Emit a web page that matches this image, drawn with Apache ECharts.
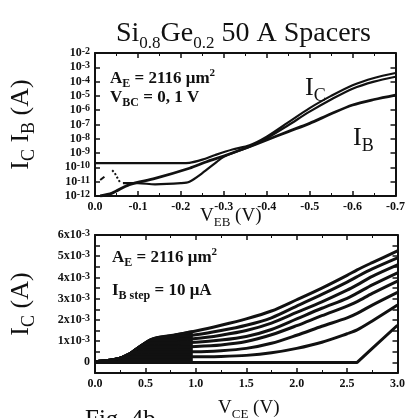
<!DOCTYPE html>
<html>
<head>
<meta charset="utf-8">
<script src="https://cdn.jsdelivr.net/npm/echarts@6/dist/echarts.min.js"></script>
<style>
  html, body { margin: 0; padding: 0; background: #fff; }
  #chart { width: 408px; height: 418px; }
</style>
</head>
<body>
<div id="chart"></div>
<script>
// --- top panel: Gummel plot (V_EB in V, currents in A) ---
const vebIcHigh = [0, -0.1, -0.2, -0.22, -0.25, -0.28, -0.32, -0.36, -0.4, -0.45, -0.5, -0.55, -0.6, -0.65, -0.7]
const icHigh = [2.0e-10, 2.0e-10, 2.0e-10, 2.1e-10, 3.5e-10, 7.4e-10, 1.8e-9, 3.5e-9, 1.4e-8, 1.4e-7, 1.4e-6, 1.0e-5, 5.6e-5, 1.8e-4, 4.0e-4]
const vebIcLow = [-0.065, -0.1, -0.14, -0.2, -0.22, -0.25, -0.28, -0.3, -0.33, -0.36, -0.4, -0.45, -0.5, -0.55, -0.6, -0.65, -0.7]
const icLow = [7.9e-12, 7.9e-12, 6.6e-12, 7.9e-12, 1.0e-11, 4.0e-11, 2.0e-10, 5.6e-10, 1.3e-9, 2.8e-9, 1.1e-8, 8.9e-8, 7.9e-7, 5.6e-6, 3.2e-5, 1.0e-4, 2.2e-4]
const vebIb = [-0.012, -0.04, -0.08, -0.14, -0.22, -0.26, -0.3, -0.35, -0.4, -0.45, -0.5, -0.55, -0.6, -0.65, -0.7]
const ib = [1.0e-12, 1.6e-12, 6.3e-12, 1.7e-11, 8.7e-11, 2.5e-10, 6.3e-10, 2.2e-9, 8.3e-9, 3.2e-8, 1.2e-7, 5.6e-7, 2.3e-6, 5.6e-6, 1.15e-5]
const vebNoise = [-0.04, -0.045, -0.05, -0.055, -0.06]
const noise = [6.3e-11, 4.5e-11, 2.5e-11, 1.3e-11, 7.9e-12]
const vebNoise2 = [-0.012, -0.022]
const noise2 = [1.3e-11, 2.2e-11]

// --- bottom panel: output characteristics (V_CE in V, I_C in mA) ---
const vce = [0, 0.15, 0.25, 0.35, 0.45, 0.55, 0.65, 0.8, 1.0, 1.25, 1.5, 1.75, 2.0, 2.25, 2.5, 2.6, 2.75, 3.0]
const ic1 = [0.03, 0.1, 0.2, 0.42, 0.76, 1.06, 1.2, 1.3, 1.48, 1.75, 2.05, 2.42, 2.95, 3.5, 4.1, 4.36, 4.7, 5.25]
const ic2 = [0.03, 0.1, 0.2, 0.42, 0.76, 1.06, 1.15, 1.2, 1.3, 1.5, 1.75, 2.1, 2.65, 3.2, 3.78, 4.04, 4.4, 4.92]
const ic3 = [0.03, 0.1, 0.2, 0.42, 0.76, 1.0, 1.05, 1.08, 1.12, 1.28, 1.5, 1.85, 2.35, 2.85, 3.4, 3.65, 4.05, 4.59]
const ic4 = [0.03, 0.1, 0.2, 0.42, 0.76, 0.9, 0.92, 0.93, 0.95, 1.05, 1.22, 1.55, 2.05, 2.55, 3.02, 3.26, 3.65, 4.22]
const ic5 = [0.03, 0.1, 0.2, 0.42, 0.7, 0.72, 0.72, 0.73, 0.75, 0.82, 0.98, 1.3, 1.73, 2.2, 2.65, 2.86, 3.25, 3.83]
const ic6 = [0.03, 0.1, 0.2, 0.42, 0.48, 0.5, 0.5, 0.5, 0.5, 0.55, 0.66, 0.9, 1.28, 1.7, 2.1, 2.31, 2.7, 3.3]
const ic7 = [0.03, 0.1, 0.2, 0.25, 0.26, 0.26, 0.26, 0.26, 0.26, 0.28, 0.33, 0.45, 0.66, 0.95, 1.35, 1.53, 1.95, 2.7]
const ic8 = [0, 0, 0, 0, 0, 0, 0, 0, 0, 0, 0, 0, 0, 0, 0, 0, 0.66, 1.75]
// the dense black knee region where all curves overlap
const vceKnee = [0, 0.15, 0.25, 0.35, 0.45, 0.55, 0.62, 0.75, 0.9, 0.97]
const icKnee = [0.03, 0.1, 0.2, 0.42, 0.76, 1.06, 1.18, 1.25, 1.4, 1.45]

const serif = '"Liberation Serif", "DejaVu Serif", serif'
const ink = '#111'

const pairs = (xs, ys) => xs.map((x, i) => [x, ys[i]])

const richSet = (size, bold, subScale) => {
  const w = bold ? 'bold' : 'normal'
  const ss = Math.round(size * (subScale || 0.68))
  return {
    n: { fontFamily: serif, fontSize: size, fontWeight: w, color: ink, lineHeight: Math.round(size * 1.3) },
    s: { fontFamily: serif, fontSize: ss, fontWeight: w, color: ink, verticalAlign: 'bottom', lineHeight: ss },
    p: { fontFamily: serif, fontSize: Math.round(size * 0.65), fontWeight: w, color: ink, verticalAlign: 'top', lineHeight: Math.round(size * 0.65) }
  }
}

const note = (text, left, top, size, bold, subScale) => ({
  text, left, top, padding: 0,
  textStyle: { rich: richSet(size, bold, subScale) }
})

const tickRich = {
  b: { fontFamily: serif, fontWeight: 'bold', fontSize: 12, color: ink, lineHeight: 13 },
  s: { fontFamily: serif, fontWeight: 'bold', fontSize: 10, color: ink, verticalAlign: 'top', lineHeight: 9 }
}

const frameAxis = (extra) => Object.assign({
  type: 'value',
  axisLine: { onZero: false, lineStyle: { color: ink, width: 2 } },
  axisTick: { inside: true, length: 5, lineStyle: { color: ink, width: 1.5 } },
  splitLine: { show: false }
}, extra)

const xLabel = { margin: 5, color: ink, fontFamily: serif, fontWeight: 'bold', fontSize: 12 }
const minor = { show: true, splitNumber: 2, length: 3, lineStyle: { color: ink } }

const chart = echarts.init(document.getElementById('chart'))

const lineSeries = (xAxisIndex, yAxisIndex, data, width, extra) => Object.assign({
  type: 'line', xAxisIndex, yAxisIndex, data, showSymbol: false, smooth: 0.3,
  lineStyle: { color: ink, width }, silent: true, animation: false
}, extra)

const option = {
  backgroundColor: '#fff',
  animation: false,
  title: [
    note('{n|Si}{s|0.8}{n|Ge}{s|0.2}{n| 50 A Spacers}', 116, 16, 28, false, 0.62),
    note('{n|A}{s|E}{n| = 2116 μm}{p|2}', 110, 68, 17, true),
    note('{n|V}{s|BC}{n| = 0, 1 V}', 110, 87, 17, true),
    note('{n|I}{s|C}', 305, 71, 26, false),
    note('{n|I}{s|B}', 353, 121, 26, false),
    note('{n|V}{s|EB}{n| (V)}', 200, 204, 19, false),
    note('{n|A}{s|E}{n| = 2116 μm}{p|2}', 112, 247, 17, true),
    note('{n|I}{s|B step}{n| = 10 μA}', 112, 280, 17, true),
    note('{n|V}{s|CE}{n| (V)}', 218, 396, 19, false),
    note('{n|Fig. 4b}', 85, 404, 25, false)
  ],
  grid: [
    { left: 95, right: 8, top: 53, height: 143 },
    { left: 95, right: 8, top: 235, height: 138 }
  ],
  xAxis: [
    frameAxis({
      gridIndex: 0, position: 'bottom', min: -0.7, max: 0, interval: 0.1, inverse: true, minorTick: minor,
      axisLabel: Object.assign({}, xLabel, { formatter: v => (v === 0 ? '0.0' : v.toFixed(1)) })
    }),
    frameAxis({
      gridIndex: 0, position: 'top', min: -0.7, max: 0, interval: 0.1, inverse: true, minorTick: minor,
      axisLabel: { show: false }
    }),
    frameAxis({
      gridIndex: 1, position: 'bottom', min: 0, max: 3, interval: 0.5, minorTick: minor,
      axisLabel: Object.assign({}, xLabel, { formatter: v => v.toFixed(1) })
    }),
    frameAxis({
      gridIndex: 1, position: 'top', min: 0, max: 3, interval: 0.5, minorTick: minor,
      axisLabel: { show: false }
    })
  ],
  yAxis: [
    frameAxis({
      gridIndex: 0, type: 'log', logBase: 10, min: 1e-12, max: 1e-2, interval: 1, position: 'left',
      axisLabel: {
        margin: 5, rich: tickRich,
        formatter: v => '{b|10}{s|' + Math.round(Math.log10(v)) + '}'
      },
      name: '{n|I}{s|C}{n| I}{s|B}{n| (A)}', nameLocation: 'middle', nameRotate: 90, nameGap: 57,
      nameTextStyle: { rich: richSet(26, false) }
    }),
    frameAxis({
      gridIndex: 0, type: 'log', logBase: 10, min: 1e-12, max: 1e-2, interval: 1, position: 'right',
      axisLabel: { show: false }
    }),
    frameAxis({
      gridIndex: 1, position: 'left', min: -0.5, max: 6, interval: 0.5,
      axisLabel: {
        margin: 5, rich: tickRich,
        formatter: v => {
          const k = Math.round(v)
          if (Math.abs(v - k) > 1e-6 || k < 0) return ''
          return k === 0 ? '{b|0}' : '{b|' + k + 'x10}{s|-3}'
        }
      },
      name: '{n|I}{s|C}{n| (A)}', nameLocation: 'middle', nameRotate: 90, nameGap: 57,
      nameTextStyle: { rich: richSet(26, false) }
    }),
    frameAxis({
      gridIndex: 1, position: 'right', min: -0.5, max: 6, interval: 0.5,
      axisLabel: { show: false }
    })
  ],
  series: [
    lineSeries(0, 0, pairs(vebIcHigh, icHigh), 2.2),
    lineSeries(0, 0, pairs(vebIcLow, icLow), 2.2),
    lineSeries(0, 0, pairs(vebIb, ib), 2.8),
    lineSeries(0, 0, pairs(vebNoise, noise), 2, { smooth: false, lineStyle: { color: ink, width: 2, type: 'dotted' } }),
    lineSeries(0, 0, pairs(vebNoise2, noise2), 2, { smooth: false }),
    lineSeries(2, 2, pairs(vceKnee, icKnee), 2.5, { areaStyle: { color: ink, opacity: 1 } }),
    lineSeries(2, 2, pairs(vce, ic1), 3),
    lineSeries(2, 2, pairs(vce, ic2), 3),
    lineSeries(2, 2, pairs(vce, ic3), 3),
    lineSeries(2, 2, pairs(vce, ic4), 3),
    lineSeries(2, 2, pairs(vce, ic5), 3),
    lineSeries(2, 2, pairs(vce, ic6), 3),
    lineSeries(2, 2, pairs(vce, ic7), 3),
    lineSeries(2, 2, pairs(vce, ic8), 3, { smooth: false })
  ]
}

chart.setOption(option)
</script>
</body>
</html>
